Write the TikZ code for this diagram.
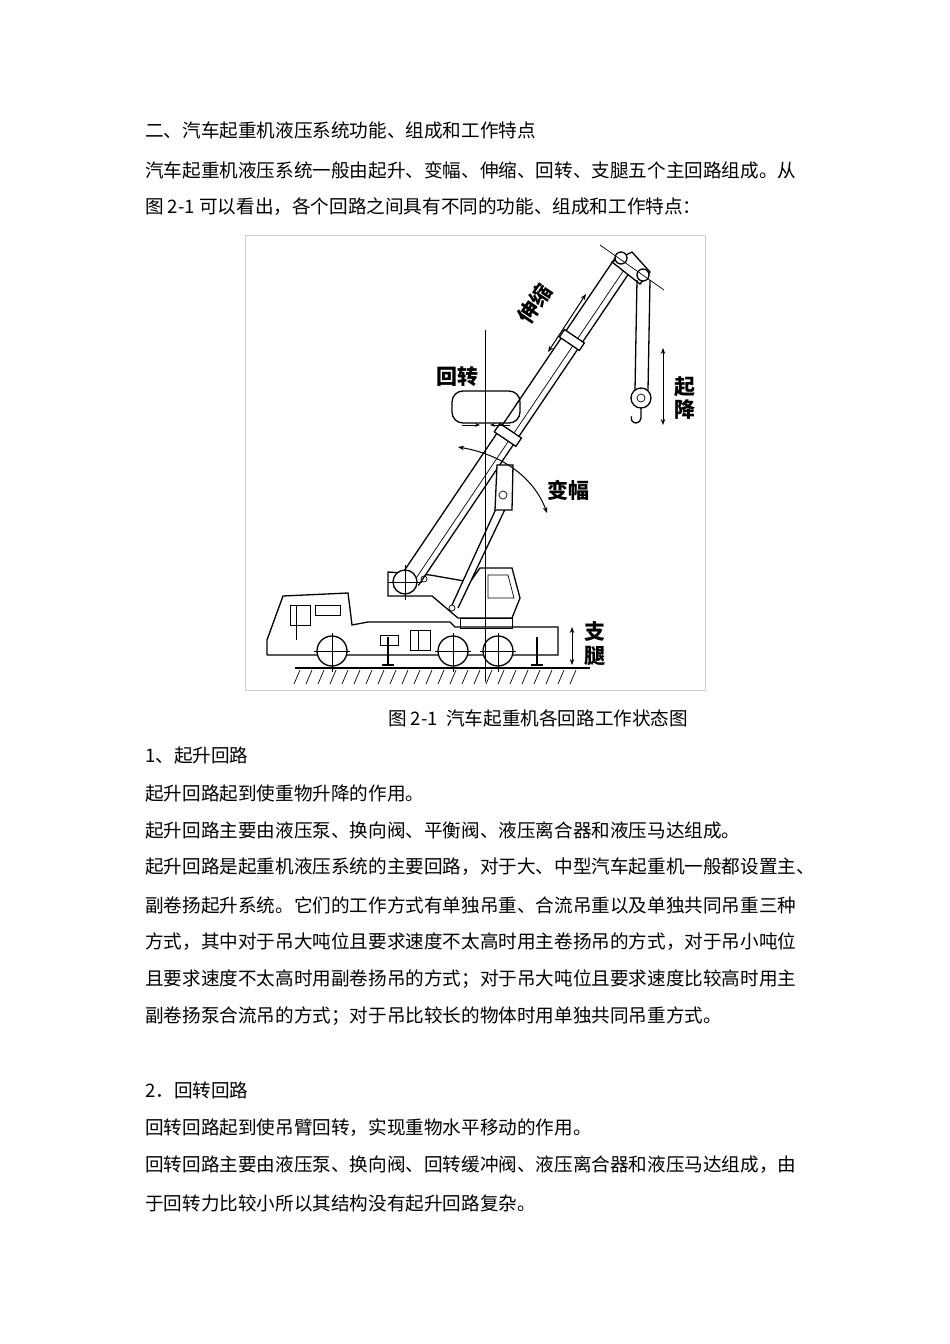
\documentclass[tikz,border=0pt]{standalone}
\usepackage{fontspec}
\setmainfont{Noto Sans CJK SC}
\usetikzlibrary{arrows.meta}
\begin{document}
\begin{tikzpicture}[x=1pt,y=-1pt,
  txt/.style={anchor=west,inner sep=0pt,font=\fontsize{18.6}{20}\selectfont},
  lbl/.style={inner sep=0pt,font=\fontsize{21}{22}\selectfont\bfseries},
  ln/.style={line width=1.3pt,black},
  thin/.style={line width=0.7pt,black},
  dar/.style={line width=1pt,{Stealth[length=6pt]}-{Stealth[length=6pt]}}]
\useasboundingbox (0,0) rectangle (950,1344);
\fill[white] (0,0) rectangle (950,1344);
% text lines
\node[txt] (t1) at (145,130) {二、汽车起重机液压系统功能、组成和工作特点};
\node[txt] (t2) at (145,170) {汽车起重机液压系统一般由起升、变幅、伸缩、回转、支腿五个主回路组成。从};
\node[txt] (t3) at (145,207) {图 2-1 可以看出，各个回路之间具有不同的功能、组成和工作特点：};
\node[txt,anchor=center] (cap) at (538,718) {图 2-1\ \ 汽车起重机各回路工作状态图};
\node[txt] (t4) at (145,755) {1、起升回路};
\node[txt] (t5) at (145,793) {起升回路起到使重物升降的作用。};
\node[txt] (t6) at (145,830) {起升回路主要由液压泵、换向阀、平衡阀、液压离合器和液压马达组成。};
\node[txt] (t7) at (145,867) {起升回路是起重机液压系统的主要回路，对于大、中型汽车起重机一般都设置主、};
\node[txt] (t8) at (145,905) {副卷扬起升系统。它们的工作方式有单独吊重、合流吊重以及单独共同吊重三种};
\node[txt] (t9) at (145,942) {方式，其中对于吊大吨位且要求速度不太高时用主卷扬吊的方式，对于吊小吨位};
\node[txt] (t10) at (145,979) {且要求速度不太高时用副卷扬吊的方式；对于吊大吨位且要求速度比较高时用主};
\node[txt] (t11) at (145,1016) {副卷扬泵合流吊的方式；对于吊比较长的物体时用单独共同吊重方式。};
\node[txt] (t12) at (145,1090) {2．回转回路};
\node[txt] (t13) at (145,1128) {回转回路起到使吊臂回转，实现重物水平移动的作用。};
\node[txt] (t14) at (145,1165) {回转回路主要由液压泵、换向阀、回转缓冲阀、液压离合器和液压马达组成，由};
\node[txt] (t15) at (145,1203) {于回转力比较小所以其结构没有起升回路复杂。};
% figure frame
\draw[gray!40,line width=0.8pt] (245,235) rectangle (705,690);
% ground
\draw[ln] (295,668) -- (590,668);
\foreach \x in {300,312,...,585} \draw[thin] (\x,670) -- (\x-6,684);
% chassis
\draw[ln] (267,655) -- (267,640) -- (283,596) -- (348,593) -- (352,625) -- (368,622) -- (450,622) -- (455,627) -- (558,627) -- (558,655) -- (267,655);
\draw[thin] (290,605) rectangle (310,625);
\draw[thin] (315,605) rectangle (340,615);
\draw[thin] (296,605) -- (296,640);
\draw[thin] (380,635) rectangle (398,645);
\draw[thin] (410,630) rectangle (430,650);
\draw[thin] (418,630) -- (418,650);
\foreach \c/\n in {332/wa,453/wb,498/wc}{
  \draw[ln,fill=white] (\c,651) circle (15);
  \draw[thin] (\c,633) -- (\c,672); \draw[thin] (\c-18,651) -- (\c+18,651);}
% outriggers
\draw[ln] (388,637) -- (388,665); \draw[ln] (382,665) -- (394,665);
\draw[ln] (537,637) -- (537,665); \draw[ln] (531,665) -- (543,665);
% superstructure
\draw[ln] (388,572) -- (388,596) -- (432,596) -- (458,618) -- (512,618) -- (520,598) -- (512,568) -- (480,568) -- (470,582) -- (430,575) -- cycle;
\draw[thin] (488,575) -- (508,575) -- (514,598) -- (488,598) -- cycle;
\draw[thin] (460,618) rectangle (512,628);
% luffing cylinder
\draw[ln,fill=white] (452,605) -- (500,500) -- (508,503) -- (458,608);
\draw[thin] (452,608) circle (3);
% boom
\begin{scope}[shift={(410,580)},rotate=56]
 \draw[ln,fill=white] (0,-10) -- (385,-10) -- (385,10) -- (0,10);
 \draw[thin] (0,4) -- (385,4);
 \draw[ln,fill=white] (170,-13) rectangle (180,13);
 \draw[ln,fill=white] (285,-12) rectangle (294,12);
\end{scope}
\draw[ln,fill=white] (497,465) -- (513,465) -- (512,510) -- (495,510) -- cycle;
\draw[thin] (503,495) circle (4);
\draw[ln,fill=white] (405,582) circle (12);
\draw[thin] (405,565) -- (405,600); \draw[thin] (388,582) -- (422,582);
\draw[thin] (424,579) circle (3);
\node[lbl,rotate=56] (sx) at (535,304) {伸缩};
\draw[dar] (548,352) -- (586,294);
% head sheaves
\draw[ln,fill=white] (612,262) -- (632,252) -- (650,272) -- (640,284) -- cycle;
\draw[ln,fill=white] (621,258) circle (6);
\draw[ln,fill=white] (643,275) circle (6);
\draw[thin] (600,245) -- (664,290);
% hook
\draw[ln] (637,280) -- (635,390); \draw[ln] (650,280) -- (648,390);
\draw[ln,fill=white] (641,398) circle (10);
\draw[thin] (641,398) circle (4);
\draw[ln] (641,408) -- (641,418) arc (0:200:5);
\draw[dar] (663,348) -- (663,425);
\node[lbl] (qi) at (685,387) {起};
\node[lbl] (jiang) at (685,410) {降};
% slewing
\draw[thin] (485,330) -- (485,682);
\node[lbl] (hz) at (457,377) {回转};
\draw[ln,rounded corners=11pt] (452,391) rectangle (520,423);
\draw[line width=0.9pt,-{Stealth[length=5pt]}] (462,425) -- (480,425);
\draw[line width=0.9pt,-{Stealth[length=5pt]}] (510,425) -- (490,425);
% luffing arrow
\draw[line width=1pt,{Stealth[length=6pt]}-{Stealth[length=6pt]}] (458,447) .. controls (505,455) and (535,480) .. (547,513);
\node[lbl] (bf) at (568,490) {变幅};
% outrigger arrow
\draw[dar] (572,627) -- (572,665);
\node[lbl] (zhi) at (595,632) {支};
\node[lbl] (tui) at (595,656) {腿};
\end{tikzpicture}
\end{document}
